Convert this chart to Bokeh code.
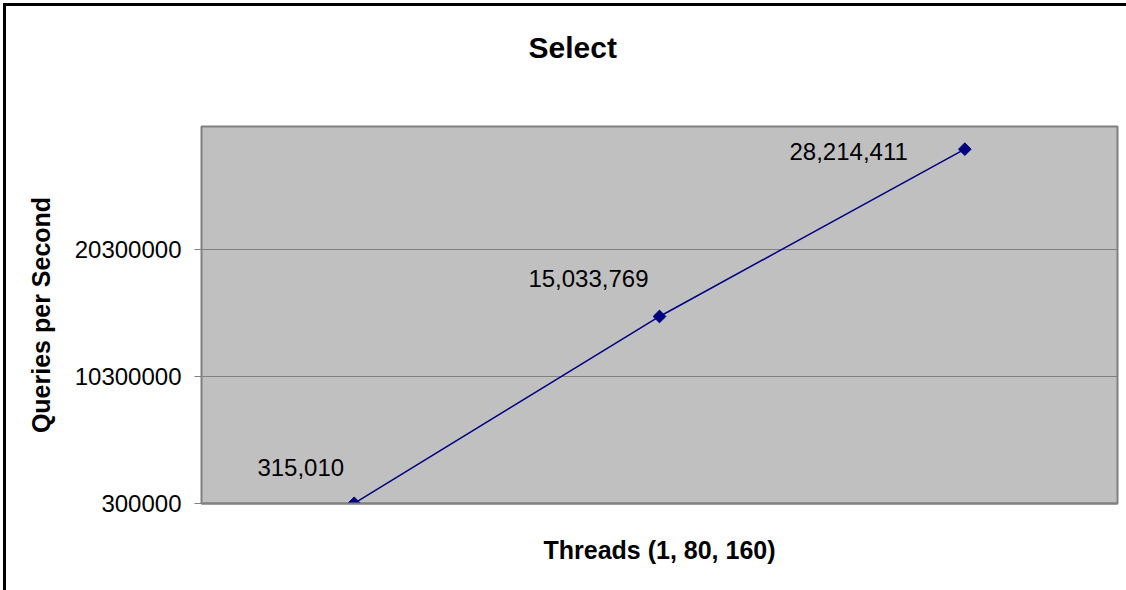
import math
from bokeh.plotting import figure
from bokeh.models import (ColumnDataSource, FixedTicker, LabelSet, Title, FactorRange,
                          Range1d, BasicTickFormatter)
from bokeh.core.properties import value
from bokeh.embed import file_html
from bokeh.resources import INLINE

# ---- data ----
threads = ["1", "80", "160"]
qps = [315010, 15033769, 28214411]
qps_labels = ["315,010", "15,033,769", "28,214,411"]
y_ticks = [300000, 10300000, 20300000]
y_min, y_max = 300000, 30000000
title_text = "Select"
x_title = "Threads (1, 80, 160)"
y_title = "Queries per Second"

FONT = "Liberation Sans"
GRAY = "#808080"
NAVY = "#000080"

p = figure(width=1126, height=590, output_backend="svg", toolbar_location=None,
           x_range=FactorRange(*threads, range_padding=0),
           y_range=Range1d(y_min, y_max),
           min_border_left=201, min_border_right=9,
           min_border_top=126, min_border_bottom=87)

p.background_fill_color = "#C0C0C0"
p.border_fill_color = None   # transparent: the page's chart frame shows through
p.styles = {
    "background-color": "#ffffff",
    "box-shadow": "inset 3px 3px 0 0 #ffffff, inset 6px 6px 0 0 #000000",
}
p.outline_line_color = GRAY
p.outline_line_width = 2

# spacer panel between frame and title
p.add_layout(Title(text=" ", text_font_size="1px", standoff=60), "above")

# main title
p.title = Title(text=title_text, align="left", offset=327, standoff=0,
                vertical_align="bottom",
                text_font=FONT, text_font_size="30px",
                text_font_style="bold", text_color="black")

# grid
p.xgrid.visible = False
p.ygrid.ticker = FixedTicker(ticks=y_ticks)
p.ygrid.grid_line_color = GRAY
p.ygrid.grid_line_width = 1

# y axis
p.yaxis.ticker = FixedTicker(ticks=y_ticks)
p.yaxis.formatter = BasicTickFormatter(use_scientific=False)
p.yaxis.axis_line_color = GRAY
p.yaxis.axis_line_width = 1
p.yaxis.major_tick_line_color = GRAY
p.yaxis.major_tick_out = 7
p.yaxis.major_tick_in = 0
p.yaxis.minor_tick_line_color = None
p.yaxis.major_label_text_font = FONT
p.yaxis.major_label_text_font_size = "24px"
p.yaxis.major_label_text_color = "black"
p.yaxis.major_label_standoff = 13
p.yaxis.axis_label = y_title
p.yaxis.axis_label_text_font = FONT
p.yaxis.axis_label_text_font_size = "25px"
p.yaxis.axis_label_text_font_style = "bold"
p.yaxis.axis_label_text_color = "black"
p.yaxis.axis_label_standoff = 17

# x axis
p.xaxis.major_label_text_font_size = "0px"
p.xaxis.major_label_text_color = None
p.xaxis.major_tick_line_color = None
p.xaxis.minor_tick_line_color = None
p.xaxis.major_tick_out = 0
p.xaxis.major_label_standoff = 0
p.xaxis.axis_line_color = GRAY
p.xaxis.axis_line_width = 2
p.xaxis.axis_label = x_title
p.xaxis.axis_label_text_font = FONT
p.xaxis.axis_label_text_font_size = "25px"
p.xaxis.axis_label_text_font_style = "bold"
p.xaxis.axis_label_text_color = "black"
p.xaxis.axis_label_standoff = 32

# series
src = ColumnDataSource(dict(
    x=threads, y=qps, label=qps_labels,
    dx=[-10, -11, -57], dy=[36, 38, -2],
))
p.line("x", "y", source=src, line_color=NAVY, line_width=1.5)
p.scatter("x", "y", source=src, marker="square", size=9, angle=math.pi / 4,
          fill_color=NAVY, line_color=NAVY)

labels = LabelSet(x="x", y="y", text="label", source=src,
                  x_offset="dx", y_offset="dy",
                  text_align="right", text_baseline="middle",
                  text_font=value(FONT), text_font_size="24px", text_color="black")
p.add_layout(labels)

open("out.html", "w").write(file_html(p, INLINE))
